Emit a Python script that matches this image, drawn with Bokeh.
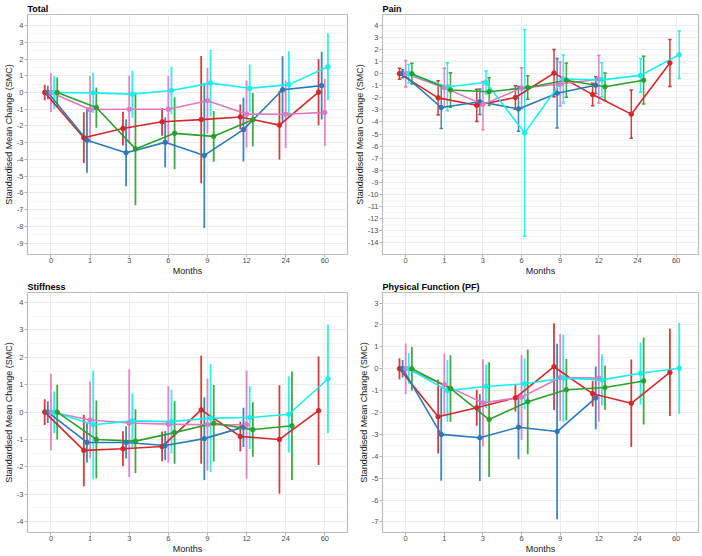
from bokeh.plotting import figure
from bokeh.layouts import gridplot
from bokeh.models import Range1d, FixedTicker
from bokeh.embed import file_html
from bokeh.resources import INLINE

MONTHS = ["0", "1", "3", "6", "9", "12", "24", "60"]
SERIES = ["red", "blue", "pink", "cyan", "green"]
COLORS = {"red": "#d62728", "blue": "#2a7ab8", "pink": "#e377c2",
          "cyan": "#14f0f0", "green": "#2ca02c"}
DODGE = {"red": -0.16, "blue": -0.08, "pink": 0.0, "cyan": 0.08, "green": 0.16}
N = None

# ---------------- Total ----------------
total_mean = {
    "red":   [0, -2.70, -2.15, -1.75, -1.62, -1.46, -1.95, 0.02],
    "blue":  [0, -2.85, -3.60, -2.98, -3.76, -2.22, 0.16, 0.41],
    "pink":  [0, -1.02, -1.00, -1.00, -0.49, -1.29, -1.30, -1.19],
    "cyan":  [0, -0.02, -0.10, 0.12, 0.56, 0.25, 0.47, 1.54],
    "green": [0, -0.90, -3.37, -2.44, -2.62, -1.63, N, N],
}
total_lower = {
    "red":   [-0.47, -4.22, -3.17, -2.58, -5.42, -2.20, -4.00, -1.95],
    "blue":  [-0.40, -4.80, -5.60, -4.46, -8.09, -4.12, -1.84, -1.61],
    "pink":  [-1.17, -3.02, -3.00, -2.98, -2.46, -3.29, -3.32, -3.19],
    "cyan":  [-0.97, -1.22, -1.50, -1.30, -1.44, -1.17, -1.53, -0.46],
    "green": [-0.90, -2.10, -6.74, -4.59, -4.14, -3.23, N, N],
}
total_upper = {
    "red":   [0.47, -1.18, -1.15, -0.93, 2.18, -0.72, 0.10, 1.99],
    "blue":  [0.40, -0.90, -1.60, -1.50, 0.57, -0.32, 2.16, 2.43],
    "pink":  [1.17, 0.98, 1.00, 0.98, 1.48, 0.71, 0.72, 0.81],
    "cyan":  [0.97, 1.18, 1.30, 1.54, 2.56, 1.67, 2.47, 3.53],
    "green": [0.90, 0.30, 0.00, -0.29, -1.10, -0.03, N, N],
}

# ---------------- Pain ----------------
pain_mean = {
    "red":   [0, -2.00, -2.62, -1.97, 0.05, -1.73, -3.35, 0.89],
    "blue":  [0, -2.80, -2.32, -2.92, -1.62, -0.95, N, N],
    "pink":  [0, -1.16, -2.54, -1.20, -0.86, -0.46, N, N],
    "cyan":  [0, -1.08, -0.73, -4.90, -0.44, -0.51, -0.14, 1.57],
    "green": [0, -1.35, -1.49, -1.15, -0.54, -1.08, -0.54, N],
}
pain_lower = {
    "red":   [-0.46, -3.42, -3.96, -2.95, -1.91, -2.66, -5.35, -1.06],
    "blue":  [-0.33, -4.53, -3.37, -4.77, -4.49, -1.65, N, N],
    "pink":  [-1.10, -2.76, -4.64, -2.90, -2.68, -2.43, N, N],
    "cyan":  [-0.76, -3.06, -1.68, -13.45, -2.42, -1.93, -1.54, -0.40],
    "green": [-0.86, -2.77, -2.64, -2.12, -1.96, -2.21, -2.52, N],
}
pain_upper = {
    "red":   [0.46, -0.58, -1.28, -0.99, 2.01, -0.80, -1.35, 2.84],
    "blue":  [0.33, -1.07, -1.27, -1.07, 1.25, -0.25, N, N],
    "pink":  [1.10, 0.44, -0.64, 0.50, 0.96, 1.51, N, N],
    "cyan":  [0.76, 0.90, 0.22, 3.65, 1.54, 0.91, 1.26, 3.54],
    "green": [0.86, 0.07, -0.34, -0.18, 0.88, 0.05, 1.44, N],
}

# ---------------- Stiffness ----------------
stiff_mean = {
    "red":   [0, -1.40, -1.34, -1.26, 0.08, -0.89, -1.00, 0.05],
    "blue":  [0, -1.11, -1.11, -1.22, -0.97, -0.55, N, N],
    "pink":  [0, -0.29, -0.40, -0.44, -0.46, -0.46, N, N],
    "cyan":  [0, -0.46, -0.32, -0.35, -0.22, -0.20, -0.08, 1.21],
    "green": [0, -1.00, -1.06, -0.75, -0.41, -0.64, -0.50, N],
}
stiff_lower = {
    "red":   [-0.47, -2.71, -1.98, -1.80, -1.89, -1.44, -2.98, -1.93],
    "blue":  [-0.40, -1.84, -1.70, -1.76, -2.48, -1.28, N, N],
    "pink":  [-1.40, -1.69, -2.38, -1.84, -2.14, -2.44, N, N],
    "cyan":  [-0.76, -2.46, -1.30, -1.50, -2.19, -1.35, -1.48, -0.77],
    "green": [-1.00, -2.43, -2.23, -1.89, -1.81, -1.63, -2.48, N],
}
stiff_upper = {
    "red":   [0.47, -0.10, -0.70, -0.71, 2.06, -0.35, 0.98, 2.03],
    "blue":  [0.40, -0.39, -0.52, -0.69, 0.54, 0.16, N, N],
    "pink":  [1.40, 1.11, 1.56, 0.95, 1.22, 1.52, N, N],
    "cyan":  [0.76, 1.52, 0.68, 0.81, 1.75, 0.95, 1.31, 3.20],
    "green": [1.00, 0.42, 0.10, 0.40, 0.99, 0.36, 1.48, N],
}

# ---------------- Physical Function ----------------
pf_mean = {
    "red":   [0, -2.19, -1.78, -1.33, 0.09, -1.14, -1.58, -0.17],
    "blue":  [0, -3.00, -3.15, -2.67, -2.87, -1.33, N, N],
    "pink":  [0, -0.73, -1.56, -1.30, -0.40, -0.43, N, N],
    "cyan":  [0, -1.00, -0.81, -0.69, -0.43, -0.51, -0.21, 0.02],
    "green": [0, -0.90, -2.32, -1.51, -0.96, -0.86, -0.56, N],
}
pf_lower = {
    "red":   [-0.48, -3.87, -2.60, -1.96, -1.90, -1.73, -3.58, -2.16],
    "blue":  [-0.40, -5.12, -5.13, -4.14, -6.87, -2.77, N, N],
    "pink":  [-1.15, -2.17, -3.55, -3.26, -2.39, -2.42, N, N],
    "cyan":  [-0.71, -2.42, -1.81, -1.85, -2.42, -1.69, -1.63, -2.06],
    "green": [-0.99, -2.42, -4.95, -3.91, -2.37, -1.87, -2.55, N],
}
pf_upper = {
    "red":   [0.48, -0.51, -0.96, -0.71, 2.08, -0.55, 0.42, 1.82],
    "blue":  [0.40, -0.87, -1.15, -1.22, 1.14, 0.10, N, N],
    "pink":  [1.15, 0.70, 0.43, 0.62, 1.59, 1.55, N, N],
    "cyan":  [0.71, 0.40, 0.19, 0.47, 1.55, 0.66, 1.19, 2.09],
    "green": [0.99, 0.61, 0.30, 0.88, 0.44, 0.14, 1.42, N],
}

FONT = "Liberation Sans"


def panel(title, mean, lower, upper, y_lo, y_hi, yticks, caps=False):
    p = figure(width=351, height=278,
               x_range=Range1d(-0.6, 7.58), y_range=Range1d(y_lo, y_hi),
               output_backend="svg", toolbar_location=None,
               min_border_left=0, min_border_right=4,
               min_border_top=12, min_border_bottom=0)
    p.title.text = title
    p.title.text_font = FONT
    p.title.text_font_size = "9px"
    p.title.text_font_style = "bold"
    p.title.text_color = "#000000"
    p.title.align = "left"
    p.title.standoff = 2
    p.title.offset = 0

    p.background_fill_color = "white"
    p.border_fill_color = "white"
    p.outline_line_color = "#bdbdbd"
    p.outline_line_width = 1.2

    xt = FixedTicker(ticks=list(range(len(MONTHS))))
    p.xaxis.ticker = xt
    p.xaxis.major_label_overrides = {i: m for i, m in enumerate(MONTHS)}
    p.xaxis.axis_label = "Months"

    minors = [t + 0.5 for t in yticks[:-1]]
    p.yaxis.ticker = FixedTicker(ticks=yticks, minor_ticks=minors)
    p.yaxis.major_label_overrides = {t: str(t) for t in yticks}
    p.yaxis.axis_label = "Standardised Mean Change (SMC)"

    for ax in (p.xaxis, p.yaxis):
        ax.axis_line_color = None
        ax.major_tick_line_color = "#b3b3b3"
        ax.major_tick_out = 3
        ax.major_tick_in = 0
        ax.minor_tick_line_color = None
        ax.major_label_text_font = FONT
        ax.major_label_text_font_size = "7.5px"
        ax.major_label_text_color = "#4d4d4d"
        ax.major_label_standoff = 0
        ax.axis_label_text_font = FONT
        ax.axis_label_text_font_size = "9px"
        ax.axis_label_text_font_style = "normal"
        ax.axis_label_text_color = "#1a1a1a"
        ax.axis_label_standoff = 0

    p.xgrid.grid_line_color = "#ebebeb"
    p.ygrid.grid_line_color = "#ebebeb"
    p.ygrid.minor_grid_line_color = "#f5f5f5"

    data = {}
    for s in SERIES:
        xs, ms, los, his = [], [], [], []
        for i in range(len(MONTHS)):
            if mean[s][i] is None:
                continue
            xs.append(i + DODGE[s])
            ms.append(mean[s][i])
            los.append(lower[s][i])
            his.append(upper[s][i])
        data[s] = (xs, ms, los, his)

    for s in SERIES:
        xs, ms, los, his = data[s]
        c = COLORS[s]
        p.segment(x0=xs, y0=los, x1=xs, y1=his, line_color=c,
                  line_width=1.8 if not caps else 1.5, line_alpha=0.9)
        if caps:
            x0 = [x - 0.045 for x in xs]
            x1 = [x + 0.045 for x in xs]
            p.segment(x0=x0, y0=los, x1=x1, y1=los, line_color=c, line_width=1.5, line_alpha=0.9)
            p.segment(x0=x0, y0=his, x1=x1, y1=his, line_color=c, line_width=1.5, line_alpha=0.9)
    for s in SERIES:
        xs, ms, los, his = data[s]
        p.line(xs, ms, line_color=COLORS[s], line_width=1.6)
    for s in SERIES:
        xs, ms, los, his = data[s]
        p.scatter(xs, ms, size=4.5, fill_color=COLORS[s], line_color=COLORS[s])
    return p


p1 = panel("Total", total_mean, total_lower, total_upper, -9.68, 4.66,
           list(range(-9, 5)))
p2 = panel("Pain", pain_mean, pain_lower, pain_upper, -14.97, 4.9,
           list(range(-14, 5)), caps=True)
p3 = panel("Stiffness", stiff_mean, stiff_lower, stiff_upper, -4.4, 4.37,
           list(range(-4, 5)))
p4 = panel("Physical Function (PF)", pf_mean, pf_lower, pf_upper, -7.48, 3.48,
           list(range(-7, 4)))

grid = gridplot([[p1, p2], [p3, p4]], toolbar_location=None)

open("out.html", "w").write(file_html(grid, INLINE))
